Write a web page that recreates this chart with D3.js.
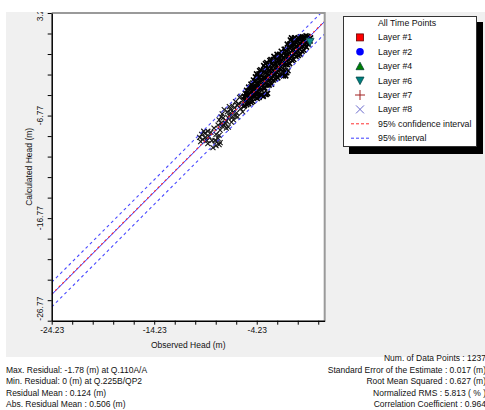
<!DOCTYPE html>
<html><head><meta charset="utf-8">
<script src="https://cdn.jsdelivr.net/npm/d3@7"></script>
<style>
body{margin:0;background:#fff;}
text{font-family:"Liberation Sans",Arial,sans-serif;fill:#111;}
</style>
</head><body>
<svg id="chart" width="485" height="410"></svg>
<script>
// ---------- data ----------
const xDomain = [-24.23, 2.4];
const yDomain = [-26.77, 3.23];
const tickStep = 2;
const xTickLabels = [-24.23, -14.23, -4.23];
const yTickLabels = [3.23, -6.77, -16.77, -26.77];
const interval95 = 1.2;
const confidence95 = 0.05;

// [observed, calculated] — sparse lower tail of the cloud
const tailPoints = [
 [-9.8,-8.9],[-9.6,-8.6],[-9.5,-9.1],[-9.3,-8.5],[-9.2,-8.9],[-9.0,-8.3],[-8.9,-8.8],[-9.7,-9.3],[-9.4,-8.3],[-9.1,-9.2],
 [-8.1,-9.3],[-7.9,-9.6],[-8.0,-9.0],[-7.8,-9.4],[-7.9,-8.7],[-8.2,-9.7],[-8.5,-9.9],[-8.3,-9.2],
 [-7.9,-7.2],[-7.6,-6.6],[-7.5,-7.0],[-7.3,-7.5],[-7.1,-6.4],[-7.6,-7.8],[-7.8,-8.2],[-7.0,-7.0],[-6.8,-6.2],[-7.2,-8.0],[-7.4,-6.2],[-8.0,-7.7],
 [-6.6,-6.9],[-6.4,-6.0],[-6.2,-6.5],[-6.0,-5.6],[-5.8,-6.1],[-5.6,-5.3],[-6.3,-5.4],[-6.8,-6.5],[-5.5,-5.9],[-6.5,-7.2],[-5.9,-5.0],[-6.1,-6.9],
 [-7.7,-6.9],[-7.2,-7.3],[-6.9,-6.8],[-6.7,-7.4],[-6.9,-5.9],[-6.3,-6.8],[-6.1,-5.8],[-5.7,-5.7],[-5.8,-4.9],[-6.5,-6.4],
 [-7.4,-7.7],[-7.7,-7.5],[-8.7,-8.4],[-9.0,-9.5],[-8.6,-9.2],[-8.2,-8.6],[-8.4,-8.0],[-7.0,-7.9],[-6.6,-5.8],[-5.6,-6.4]
];
// [observed, calculated] — dense upper band of the cloud
const bandPoints = [
 [-5.42,-5.8],[-5.36,-5.3],[-5.45,-4.9],[-5.33,-4.6],
 [-5.2,-5.7],[-5.25,-5.2],[-5.14,-4.8],[-5.22,-4.3],
 [-5.03,-5.6],[-4.97,-5.1],[-5.06,-4.7],[-4.95,-4.3],[-5.02,-4.0],
 [-4.78,-5.5],[-4.84,-5.0],[-4.76,-4.5],[-4.82,-4.0],[-4.79,-3.7],
 [-4.62,-5.4],[-4.57,-4.9],[-4.64,-4.4],[-4.58,-4.0],[-4.61,-3.6],[-4.55,-3.3],
 [-4.4,-4.9],[-4.44,-4.4],[-4.37,-4.0],[-4.42,-3.5],[-4.36,-3.0],
 [-4.18,-5.1],[-4.23,-4.5],[-4.16,-4.0],[-4.21,-3.6],[-4.19,-3.1],[-4.25,-2.7],
 [-4.02,-4.6],[-3.97,-4.1],[-4.04,-3.6],[-3.98,-3.1],[-4.01,-2.7],[-3.95,-2.4],
 [-3.78,-4.8],[-3.83,-4.2],[-3.76,-3.7],[-3.81,-3.2],[-3.79,-2.8],[-3.84,-2.3],
 [-3.62,-4.8],[-3.57,-4.1],[-3.64,-3.6],[-3.58,-3.1],[-3.61,-2.5],[-3.55,-1.9],
 [-3.4,-4.7],[-3.44,-4.1],[-3.37,-3.6],[-3.42,-3.1],[-3.36,-2.6],[-3.43,-2.1],[-3.38,-1.7],
 [-3.18,-4.6],[-3.23,-3.8],[-3.16,-3.2],[-3.21,-2.7],[-3.19,-2.2],[-3.25,-1.6],
 [-3.02,-3.8],[-2.97,-3.3],[-3.04,-2.8],[-2.98,-2.3],[-3.01,-1.8],[-2.95,-1.4],
 [-2.78,-3.7],[-2.83,-3.2],[-2.76,-2.7],[-2.81,-2.2],[-2.79,-1.7],[-2.84,-1.3],
 [-2.62,-3.3],[-2.57,-2.8],[-2.64,-2.3],[-2.58,-1.8],[-2.61,-1.3],[-2.55,-1.0],
 [-2.4,-3.2],[-2.44,-2.7],[-2.37,-2.2],[-2.42,-1.7],[-2.36,-1.2],
 [-2.18,-3.1],[-2.23,-2.6],[-2.16,-2.1],[-2.21,-1.6],[-2.19,-1.2],[-2.25,-0.8],
 [-2.02,-2.8],[-1.97,-2.2],[-2.04,-1.7],[-1.98,-1.2],[-2.01,-0.8],
 [-1.78,-2.8],[-1.83,-2.3],[-1.76,-1.8],[-1.81,-1.3],[-1.79,-0.9],[-1.84,-0.5],
 [-1.62,-2.9],[-1.57,-2.3],[-1.64,-1.7],[-1.58,-1.2],[-1.61,-0.7],[-1.55,-0.3],
 [-1.4,-2.9],[-1.44,-2.4],[-1.37,-1.8],[-1.42,-1.3],[-1.36,-0.8],[-1.43,-0.3],
 [-1.18,-2.4],[-1.23,-1.8],[-1.16,-1.3],[-1.21,-0.8],[-1.19,-0.3],[-1.25,0.2],
 [-1.02,-1.7],[-0.97,-1.2],[-1.04,-0.7],[-0.98,-0.2],[-1.01,0.2],[-0.95,0.6],
 [-0.78,-1.4],[-0.83,-0.9],[-0.76,-0.4],[-0.81,0.1],[-0.79,0.5],[-0.84,0.8],
 [-0.62,-1.3],[-0.57,-0.8],[-0.64,-0.3],[-0.58,0.1],[-0.61,0.5],[-0.55,0.8],
 [-0.4,-1.0],[-0.44,-0.5],[-0.37,0.0],[-0.42,0.4],[-0.36,0.7],
 [-0.18,-0.9],[-0.23,-0.4],[-0.16,0.1],[-0.21,0.5],[-0.19,0.8],
 [0.02,-0.8],[-0.03,-0.3],[0.04,0.2],[-0.02,0.6],[0.01,0.9],
 [0.2,-0.5],[0.24,0.0],[0.17,0.5],[0.22,0.9],
 [0.38,-0.4],[0.43,0.1],[0.36,0.5],[0.41,0.85],
 [0.62,-0.1],[0.57,0.3],[0.64,0.7],[0.58,1.0],
 [0.78,0.2],[0.83,0.6],[0.76,0.95],
 [0.98,0.5],[1.02,0.8],
 [-4.5,-4.6],[-4.2,-4.7],[-3.9,-4.8],[-3.6,-4.9],[-3.3,-4.7],[-4.0,-5.0],
 [-1.5,-2.7],[-1.3,-2.6]
];
const layer6Points = [[0.97,0.43]];

const legendLabels = ["All Time Points","Layer #1","Layer #2","Layer #4","Layer #6","Layer #7","Layer #8","95% confidence interval","95% interval"];
const legendSymbols = [null,"square","circle","triangleUp","triangleDown","plus","cross","dashRed","dashBlue"];
const legendColors = [null,"#ff0000","#0000ff","#008000","#008080","#a02020","#6a6acd","#ff3030","#3c3cff"];

const xAxisTitle = "Observed Head (m)";
const yAxisTitle = "Calculated Head (m)";
const statsLeft = ["Max. Residual: -1.78 (m) at Q.110A/A","Min. Residual: 0 (m) at Q.225B/QP2","Residual Mean : 0.124 (m)","Abs. Residual Mean : 0.506 (m)"];
const statsRight = ["Num. of Data Points : 1237","Standard Error of the Estimate : 0.017 (m)","Root Mean Squared : 0.627 (m)","Normalized RMS : 5.813 ( % )","Correlation Coefficient : 0.964"];

// ---------- layout ----------
const svg = d3.select("#chart");
const P = {left:51.7, right:324.7, top:13, bottom:320.7};
const x = d3.scaleLinear().domain(xDomain).range([P.left, P.right]);
const y = d3.scaleLinear().domain(yDomain).range([P.bottom, P.top]);
const fs = 8.5;

svg.append("defs").append("clipPath").attr("id","panelClip")
  .append("rect").attr("x",6).attr("y",12).attr("width",479).attr("height",345);
svg.append("defs").append("clipPath").attr("id","plotClip")
  .append("rect").attr("x",P.left).attr("y",P.top).attr("width",P.right-P.left).attr("height",P.bottom-P.top);

const panel = svg.append("g").attr("clip-path","url(#panelClip)");
panel.append("rect").attr("x",6).attr("y",12).attr("width",479).attr("height",345).attr("fill","#f0f0f0");
panel.append("rect").attr("x",P.left).attr("y",P.top).attr("width",P.right-P.left).attr("height",P.bottom-P.top).attr("fill","#fff");

// points
const plot = panel.append("g").attr("clip-path","url(#plotClip)");
const crossPath = "M-2.5,-2.5L2.5,2.5M-2.5,2.5L2.5,-2.5";
plot.append("g").selectAll("path").data(tailPoints).join("path")
  .attr("d",crossPath).attr("transform",d=>`translate(${x(d[0])},${y(d[1])})`)
  .attr("stroke","#151515").attr("stroke-width",1.1).attr("fill","none");
plot.append("g").selectAll("path").data(bandPoints).join("path")
  .attr("d",crossPath).attr("transform",d=>`translate(${x(d[0])},${y(d[1])})`)
  .attr("stroke","#000").attr("stroke-width",1.6).attr("fill","none");

// lines
const [x0,x1] = xDomain;
function diag(off, color, dash, w){
  plot.append("line").attr("x1",x(x0)).attr("y1",y(x0+off)).attr("x2",x(x1)).attr("y2",y(x1+off))
    .attr("stroke",color).attr("stroke-width",w||1).attr("stroke-dasharray",dash);
}
diag(0,"#2020ff",null,1);
diag(confidence95,"#ff2020","2,3",1.1);
diag(interval95,"#4a4aff","3,3",1.1);
diag(-interval95,"#4a4aff","3,3",1.1);

// layer 6
plot.append("g").selectAll("path").data(layer6Points).join("path")
  .attr("d","M-4,-3.5L4,-3.5L0,4Z").attr("transform",d=>`translate(${x(d[0])},${y(d[1])})`)
  .attr("fill","#128c8c").attr("stroke","#0a4a4a").attr("stroke-width",0.8);

// frame top/right
panel.append("path").attr("d",`M${P.left},${P.top}H${P.right}V${P.bottom}`).attr("fill","none").attr("stroke","#9a9a9a").attr("stroke-width",2);

// axes
const round2 = v => Math.round(v*100)/100;
const xTicks = d3.range(0, Math.floor((xDomain[1]-xDomain[0])/tickStep)+1).map(i=>round2(xDomain[0]+i*tickStep));
const yTicks = d3.range(0, Math.floor((yDomain[1]-yDomain[0])/tickStep)+1).map(i=>round2(yDomain[1]-i*tickStep));

const xAxis = panel.append("g").attr("transform",`translate(0,${P.bottom})`)
  .call(d3.axisBottom(x).tickValues(xTicks).tickSize(4).tickSizeOuter(0).tickFormat(d=>xTickLabels.includes(d)?d.toFixed(2):""));
xAxis.select(".domain").attr("stroke","#000").attr("stroke-width",1.5);
xAxis.selectAll(".tick line").attr("stroke","#000");
xAxis.selectAll("text").attr("font-size",fs).attr("font-family","Liberation Sans, Arial, sans-serif").attr("fill","#111").attr("dy","0.6em");

const yAxis = panel.append("g").attr("transform",`translate(${P.left},0)`)
  .call(d3.axisLeft(y).tickValues(yTicks).tickSize(4).tickSizeOuter(0).tickFormat(""));
yAxis.select(".domain").attr("stroke","#000").attr("stroke-width",1.5);
yAxis.selectAll(".tick line").attr("stroke","#000");
panel.append("g").selectAll("text").data(yTickLabels).join("text")
  .attr("transform",d=>`translate(${P.left-12},${y(d)}) rotate(-90)`)
  .attr("text-anchor",d=> d===yDomain[0] ? "start" : "middle")
  .attr("dy","0.35em").attr("font-size",fs).text(d=>d.toFixed(2));

// axis titles
panel.append("text").attr("x",(P.left+P.right)/2).attr("y",348).attr("text-anchor","middle").attr("font-size",fs).text(xAxisTitle);
panel.append("text").attr("transform",`translate(29,${(P.top+P.bottom)/2}) rotate(-90)`).attr("text-anchor","middle").attr("dy","0.35em").attr("font-size",fs).text(yAxisTitle);

// legend
const L = {x:343, y:16, w:133, h:130};
panel.append("rect").attr("x",L.x+6).attr("y",L.y+6).attr("width",L.w+1).attr("height",L.h+2).attr("fill","#000");
panel.append("rect").attr("x",L.x+0.5).attr("y",L.y+0.5).attr("width",L.w).attr("height",L.h).attr("fill","#fff").attr("stroke","#333");
const lg = panel.append("g").selectAll("g").data(legendLabels).join("g")
  .attr("transform",(d,i)=>`translate(${L.x},${23+i*14.4})`);
lg.append("text").attr("x",35).attr("dy","0.35em").attr("font-size",8.8).text(d=>d);
lg.each(function(d,i){
  const g = d3.select(this), s = legendSymbols[i], c = legendColors[i], cx = 17;
  if(s==="square") g.append("rect").attr("x",cx-3.5).attr("y",-3.5).attr("width",7).attr("height",7).attr("fill",c).attr("stroke","#600").attr("stroke-width",0.8);
  if(s==="circle") g.append("circle").attr("cx",cx).attr("cy",0).attr("r",3.8).attr("fill",c);
  if(s==="triangleUp") g.append("path").attr("d",`M${cx},-4L${cx+4},3.5L${cx-4},3.5Z`).attr("fill",c).attr("stroke","#043").attr("stroke-width",0.8);
  if(s==="triangleDown") g.append("path").attr("d",`M${cx-4},-3.5L${cx+4},-3.5L${cx},4Z`).attr("fill",c).attr("stroke","#044").attr("stroke-width",0.8);
  if(s==="plus") g.append("path").attr("d",`M${cx-5},0H${cx+5}M${cx},-5V5`).attr("stroke",c).attr("stroke-width",1);
  if(s==="cross") g.append("path").attr("d",`M${cx-4},-4L${cx+4},4M${cx-4},4L${cx+4},-4`).attr("stroke",c).attr("stroke-width",1);
  if(s==="dashRed"||s==="dashBlue") g.append("line").attr("x1",8).attr("x2",26).attr("stroke",c).attr("stroke-dasharray","3,2");
});

// stats
svg.append("g").selectAll("text").data(statsLeft).join("text")
  .attr("x",6).attr("y",(d,i)=>370+i*11.3).attr("dy","0.35em").attr("font-size",fs).text(d=>d);
svg.append("g").selectAll("text").data(statsRight).join("text")
  .attr("x",486).attr("y",(d,i)=>358+i*11.6).attr("text-anchor","end").attr("dy","0.35em").attr("font-size",fs).text(d=>d);
</script>
</body></html>
